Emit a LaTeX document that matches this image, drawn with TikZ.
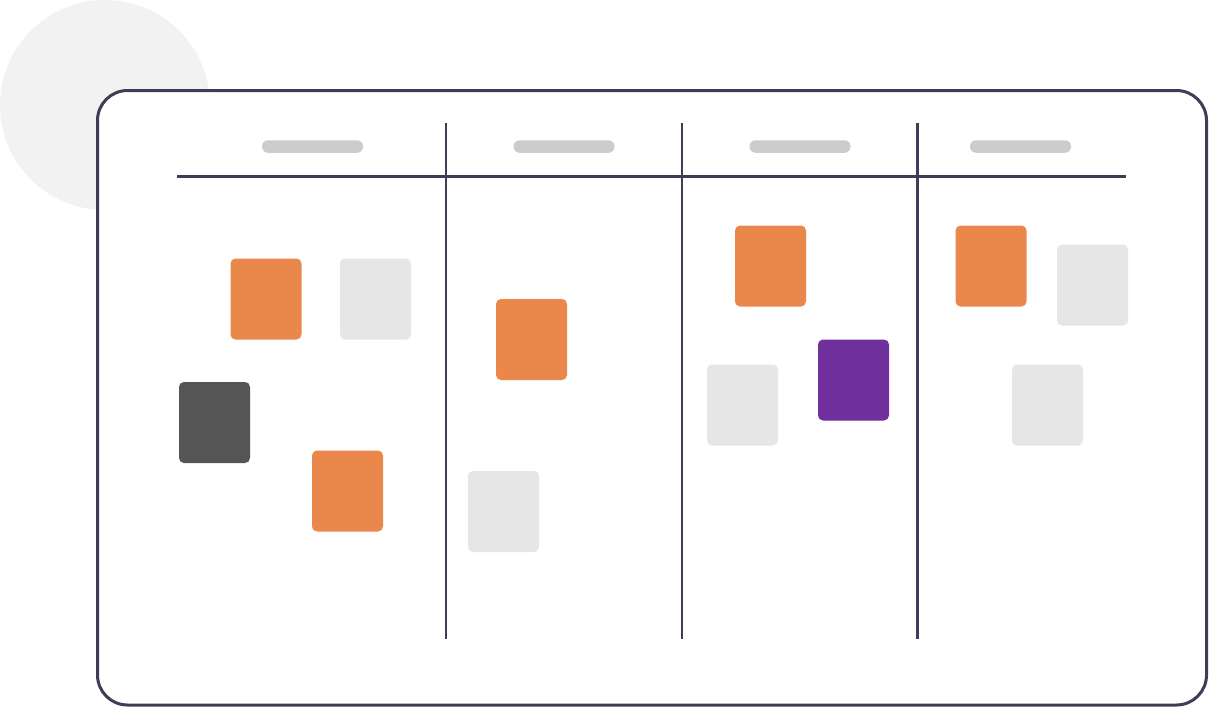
\documentclass[tikz,border=0pt]{standalone}
\definecolor{boardline}{HTML}{3F3D56}
\definecolor{cardorange}{HTML}{E9884A}
\definecolor{cardpurple}{HTML}{70309E}
\definecolor{cardgray}{HTML}{E6E6E6}
\definecolor{carddark}{HTML}{555555}
\definecolor{headgray}{HTML}{CCCCCC}
\definecolor{blobgray}{HTML}{F2F2F2}
\begin{document}
\begin{tikzpicture}[x=1pt, y=-1pt,
    card/.style={rectangle, rounded corners=5pt, inner sep=0pt, minimum width=71pt, minimum height=81pt},
    headbar/.style={rectangle, rounded corners=6pt, inner sep=0pt, fill=headgray, minimum width=101pt, minimum height=12.5pt},
    divider/.style={boardline, line width=2.5pt}]
        \useasboundingbox (0,0) rectangle (1209,707);

        % Background blob
        \fill[blobgray] (105,105) circle (105pt);

        % Board
        \draw[boardline, fill=white, line width=3pt, rounded corners=30pt] (97.5,90.5) rectangle (1206.5,705);

        % Column headers
        \node[headbar] (headA) at (312.5,146.5) {};
        \node[headbar] (headB) at (564,146.5) {};
        \node[headbar] (headC) at (800,146.5) {};
        \node[headbar] (headD) at (1020.5,146.5) {};

        % Header rule and column dividers
        \coordinate (ruleL) at (177,176.5);
        \coordinate (ruleR) at (1126,176.5);
        \draw[divider] (ruleL) -- (ruleR);
        \foreach \cx [count=\i] in {446,682,917.5} {
          \coordinate (top\i) at (\cx,123);
          \coordinate (bot\i) at (\cx,639);
          \draw[divider] (top\i) -- (bot\i);
        }

        % Cards, column 1
        \node[card, fill=cardorange] (cardA1) at (266,299) {};
        \node[card, fill=cardgray] (cardA2) at (375.5,299) {};
        \node[card, fill=carddark] (cardA3) at (214.5,422.5) {};
        \node[card, fill=cardorange] (cardA4) at (347.5,491) {};

        % Cards, column 2
        \node[card, fill=cardorange] (cardB1) at (531.5,339.5) {};
        \node[card, fill=cardgray] (cardB2) at (503.5,511.5) {};

        % Cards, column 3
        \node[card, fill=cardorange] (cardC1) at (770.5,266) {};
        \node[card, fill=cardgray] (cardC2) at (742.5,405) {};
        \node[card, fill=cardpurple] (cardC3) at (853.5,380) {};

        % Cards, column 4
        \node[card, fill=cardorange] (cardD1) at (991,266) {};
        \node[card, fill=cardgray] (cardD2) at (1092.5,285) {};
        \node[card, fill=cardgray] (cardD3) at (1047.5,405) {};
      \end{tikzpicture}
\end{document}
